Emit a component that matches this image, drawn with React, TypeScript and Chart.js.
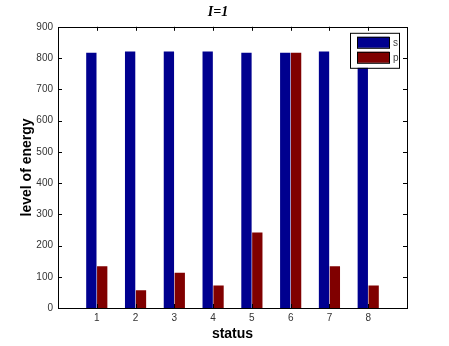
import React, { useEffect, useRef } from "react";
import { Chart, registerables } from "chart.js";

Chart.register(...registerables);

const categories = [1, 2, 3, 4, 5, 6, 7, 8];
const sValues = [817, 821, 821, 821, 817, 817, 821, 819];
const pValues = [134, 57, 113, 72, 242, 817, 134, 72];
const yTicks = [0, 100, 200, 300, 400, 500, 600, 700, 800, 900];
const seriesNames = ["s", "p"];
const seriesColors = ["#00008f", "#800000"];
const titleText = "I=1";
const xTitle = "status";
const yTitle = "level of energy";

const framePlugin = {
  id: "frameTicks",
  afterDraw(chart: any) {
    const { ctx, chartArea: a, scales } = chart;
    ctx.save();
    ctx.strokeStyle = "#000";
    ctx.lineWidth = 1;
    ctx.strokeRect(Math.round(a.left) + 0.5, Math.round(a.top) + 0.5, Math.round(a.right - a.left), Math.round(a.bottom - a.top));
    const tl = 4;
    ctx.beginPath();
    scales.x.ticks.forEach((t: any) => {
      if (t.value <= 0 || t.value >= 9) return;
      const px = Math.round(scales.x.getPixelForValue(t.value)) + 0.5;
      ctx.moveTo(px, a.bottom);
      ctx.lineTo(px, a.bottom - tl);
      ctx.moveTo(px, a.top);
      ctx.lineTo(px, a.top + tl);
    });
    scales.y.ticks.forEach((t: any) => {
      const py = Math.round(scales.y.getPixelForValue(t.value)) + 0.5;
      ctx.moveTo(a.left, py);
      ctx.lineTo(a.left + tl, py);
      ctx.moveTo(a.right, py);
      ctx.lineTo(a.right - tl, py);
    });
    ctx.stroke();

    // legend box inside top-right
    const ds = chart.data.datasets;
    const bx = a.right - 57, by = a.top + 6, bw = 49, bh = 35;
    ctx.fillStyle = "#fff";
    ctx.fillRect(bx, by, bw, bh);
    ctx.strokeRect(bx + 0.5, by + 0.5, bw, bh);
    ctx.font = "10px Arial, 'Liberation Sans', sans-serif";
    ctx.textBaseline = "middle";
    ds.forEach((d: any, i: number) => {
      const ry = by + 4 + i * 15;
      ctx.fillStyle = d.backgroundColor;
      ctx.fillRect(bx + 7, ry, 32, 11);
      ctx.strokeStyle = "#000";
      ctx.strokeRect(bx + 7.5, ry + 0.5, 32, 11);
      ctx.fillStyle = "#444";
      ctx.fillText(d.label, bx + 43, ry + 6);
    });
    ctx.restore();
  },
};

export default function App() {
  const ref = useRef<HTMLCanvasElement>(null);
  useEffect(() => {
    document.body.style.margin = "0";
    const chart = new Chart(ref.current!, {
      type: "bar",
      data: {
        datasets: [
          {
            label: seriesNames[0],
            data: categories.map((c, i) => ({ x: c, y: sValues[i] })),
            backgroundColor: seriesColors[0],
            borderWidth: 0,
          },
          {
            label: seriesNames[1],
            data: categories.map((c, i) => ({ x: c, y: pValues[i] })),
            backgroundColor: seriesColors[1],
            borderWidth: 0,
          },
        ],
      },
      plugins: [framePlugin],
      options: {
        animation: false,
        responsive: false,
        maintainAspectRatio: false,
        categoryPercentage: 0.56,
        barPercentage: 0.95,
        layout: { padding: { left: 0, right: 13, top: 0, bottom: 0 } },
        plugins: {
          legend: { display: false },
          tooltip: { enabled: false },
          title: {
            display: true,
            text: titleText,
            color: "#000",
            font: { family: "'Liberation Serif', 'Times New Roman', serif", size: 14, style: "italic", weight: "bold" },
            padding: { top: 4, bottom: 6 },
          },
        },
        scales: {
          x: {
            type: "linear",
            min: 0,
            max: 9,
            offset: false,
            grid: { display: false, drawTicks: false },
            border: { display: false },
            afterFit: (s: any) => { s.height = 38; },
            afterBuildTicks: (s: any) => {
              s.ticks = categories.map((c) => ({ value: c }));
            },
            ticks: {
              stepSize: 1,
              padding: 4,
              color: "#333",
              font: { family: "Arial, 'Liberation Sans', sans-serif", size: 10 },
            },
            title: {
              display: true,
              text: xTitle,
              color: "#000",
              font: { family: "Arial, 'Liberation Sans', sans-serif", size: 14, weight: "bold" },
              padding: { top: 0, bottom: 3 },
            },
          },
          y: {
            min: 0,
            max: 900,
            grid: { display: false, drawTicks: false },
            border: { display: false },
            afterFit: (s: any) => { s.width = 58; },
            afterBuildTicks: (s: any) => {
              s.ticks = yTicks.map((v) => ({ value: v }));
            },
            ticks: {
              padding: 5,
              color: "#333",
              font: { family: "Arial, 'Liberation Sans', sans-serif", size: 10 },
            },
            title: {
              display: true,
              text: yTitle,
              color: "#000",
              font: { family: "Arial, 'Liberation Sans', sans-serif", size: 14, weight: "bold" },
              padding: { top: 19, bottom: 0 },
            },
          },
          yRight: {
            position: "right",
            min: 0,
            max: 900,
            grid: { display: false, drawTicks: false },
            border: { display: false },
            ticks: { display: false },
            afterFit: (s: any) => { s.width = 29; },
          },
        },
      } as any,
    });
    return () => chart.destroy();
  }, []);
  return (
    <div style={{ position: "absolute", left: 0, top: 0, width: 449, height: 346 }}>
      <canvas ref={ref} width={449} height={346} style={{ width: 449, height: 346 }} />
    </div>
  );
}
